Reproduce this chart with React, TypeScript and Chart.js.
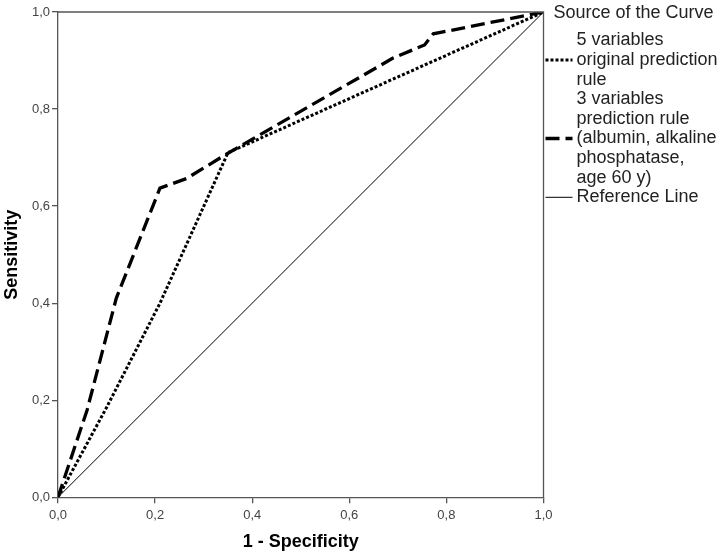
import React, { useEffect, useRef } from "react";
import { Chart, registerables } from "chart.js";

Chart.register(...registerables);

const fprOriginal = [0, 0.1, 0.21, 0.35, 1];
const tprOriginal = [0, 0.185, 0.4, 0.71, 1];

const fprThreeVar = [0, 0.06, 0.12, 0.21, 0.265, 0.35, 0.69, 0.755, 0.773, 1];
const tprThreeVar = [0, 0.18, 0.41, 0.637, 0.657, 0.709, 0.905, 0.932, 0.955, 1];

const fprReference = [0, 1];
const tprReference = [0, 1];

const legendTitle = "Source of the Curve";
const legendLabels = [
  ["5 variables", "original prediction", "rule"],
  ["3 variables", "prediction rule", "(albumin, alkaline", "phosphatase,", "age 60 y)"],
  ["Reference Line"],
];

const toPoints = (xs: number[], ys: number[]) => xs.map((x, i) => ({ x, y: ys[i] }));
const fmt = (v: number) => v.toFixed(1).replace(".", ",");

const FONT = "'Liberation Sans', Arial, sans-serif";

export default function App() {
  const ref = useRef<HTMLCanvasElement | null>(null);

  useEffect(() => {
    if (!ref.current) return;

    const frame = {
      id: "frame",
      afterDatasetsDraw(chart: any) {
        const { ctx, chartArea } = chart;
        ctx.save();
        ctx.strokeStyle = "#555";
        ctx.lineWidth = 1.3;
        ctx.beginPath();
        ctx.moveTo(chartArea.left, chartArea.top);
        ctx.lineTo(chartArea.right, chartArea.top);
        ctx.lineTo(chartArea.right, chartArea.bottom);
        ctx.stroke();
        ctx.restore();
      },
    };

    const legend = {
      id: "customLegend",
      afterDraw(chart: any) {
        const { ctx, chartArea } = chart;
        const x0 = chartArea.right + 2;
        const textX = chartArea.right + 33;
        const lh = 19.6;
        ctx.save();
        ctx.fillStyle = "#222";
        ctx.font = `18px ${FONT}`;
        ctx.textBaseline = "middle";
        ctx.textAlign = "left";
        ctx.fillText(legendTitle, chartArea.right + 10, chartArea.top + 1);
        let y = chartArea.top + 28.5;
        chart.data.datasets.forEach((ds: any, i: number) => {
          const lines = legendLabels[i];
          lines.forEach((l, k) => ctx.fillText(l, textX, y + k * lh));
          const mid = y + ((lines.length - 1) * lh) / 2;
          ctx.save();
          ctx.strokeStyle = "#000";
          ctx.lineWidth = ds.borderWidth;
          ctx.setLineDash(ds.borderDash || []);
          ctx.beginPath();
          ctx.moveTo(x0, mid);
          ctx.lineTo(textX - 4, mid);
          ctx.stroke();
          ctx.restore();
          y += lines.length * lh;
        });
        ctx.restore();
      },
    };

    const chart = new Chart(ref.current, {
      type: "scatter",
      data: {
        datasets: [
          {
            label: "5 variables original prediction rule",
            data: toPoints(fprOriginal, tprOriginal),
            showLine: true,
            borderColor: "#000",
            borderWidth: 3,
            borderDash: [3, 2],
            pointRadius: 0,
            fill: false,
          },
          {
            label: "3 variables prediction rule (albumin, alkaline phosphatase, age 60 y)",
            data: toPoints(fprThreeVar, tprThreeVar),
            showLine: true,
            borderColor: "#000",
            borderWidth: 3.3,
            borderDash: [14, 6],
            pointRadius: 0,
            fill: false,
          },
          {
            label: "Reference Line",
            data: toPoints(fprReference, tprReference),
            showLine: true,
            borderColor: "#000",
            borderWidth: 1,
            pointRadius: 0,
            fill: false,
          },
        ],
      },
      options: {
        animation: false,
        responsive: false,
        maintainAspectRatio: false,
        layout: { padding: { left: 0, top: 12, right: 183.5, bottom: 0 } },
        plugins: { legend: { display: false }, tooltip: { enabled: false } },
        scales: {
          x: {
            type: "linear",
            min: 0,
            max: 1,
            afterFit: (s: any) => {
              s.height = 58.7;
            },
            ticks: {
              stepSize: 0.2,
              callback: (v: any) => fmt(Number(v)),
              color: "#444",
              font: { family: FONT, size: 13 },
              padding: 4,
              maxRotation: 0,
            },
            grid: { drawOnChartArea: false, drawTicks: true, tickLength: 6, color: "#555", lineWidth: 1.3 },
            border: { display: true, color: "#555", width: 1.3 },
            title: {
              display: true,
              text: "1 - Specificity",
              color: "#000",
              font: { family: FONT, size: 18, weight: "bold" },
              padding: { top: 4, bottom: 3 },
            },
          },
          y: {
            type: "linear",
            min: 0,
            max: 1,
            afterFit: (s: any) => {
              s.width = 58;
            },
            ticks: {
              stepSize: 0.2,
              callback: (v: any) => fmt(Number(v)),
              color: "#444",
              font: { family: FONT, size: 13 },
              padding: 2,
            },
            grid: { drawOnChartArea: false, drawTicks: true, tickLength: 6, color: "#555", lineWidth: 1.3 },
            border: { display: true, color: "#555", width: 1.3 },
            title: {
              display: true,
              text: "Sensitivity",
              color: "#000",
              font: { family: FONT, size: 18, weight: "bold" },
              padding: { top: 1, bottom: 0 },
            },
          },
        },
      },
      plugins: [frame, legend],
    } as any);

    return () => chart.destroy();
  }, []);

  return (
    <div style={{ position: "fixed", left: 0, top: 0, width: 727, height: 556, background: "#fff" }}>
      <canvas ref={ref} width={727} height={556} style={{ display: "block" }} />
    </div>
  );
}
